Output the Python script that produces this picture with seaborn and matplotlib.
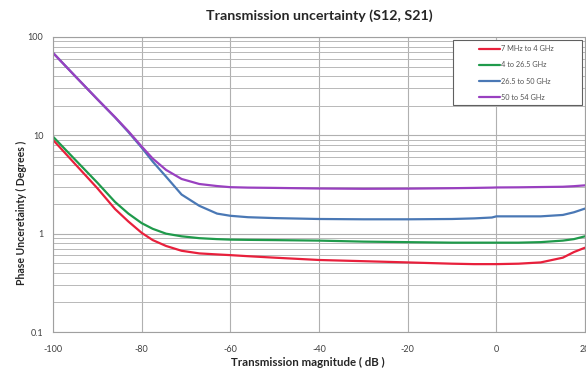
import matplotlib
matplotlib.use("Agg")
import matplotlib.pyplot as plt
import seaborn as sns
import pandas as pd
from matplotlib.ticker import FixedLocator, NullFormatter, LogLocator
from matplotlib.patches import Rectangle

x_db = [-100, -95, -90, -86, -83, -80, -77.5, -74.5, -71, -67, -63, -60, -56, -50,
        -40, -30, -20, -10, -5, -1, 0, 5, 10, 15, 17.5, 20]

red_vals = [9.0, 5.1, 2.9, 1.78, 1.33, 1.02, 0.86, 0.75, 0.67, 0.63, 0.615, 0.605, 0.59, 0.57,
            0.54, 0.525, 0.51, 0.495, 0.49, 0.49, 0.49, 0.495, 0.51, 0.57, 0.65, 0.72]
green_vals = [9.7, 5.65, 3.3, 2.1, 1.6, 1.28, 1.12, 1.0, 0.94, 0.9, 0.88, 0.87, 0.865, 0.86,
              0.85, 0.83, 0.82, 0.81, 0.81, 0.81, 0.81, 0.81, 0.82, 0.85, 0.88, 0.94]
blue_vals = [69, 40, 23.3, 15.2, 10.8, 7.5, 5.4, 3.8, 2.5, 1.92, 1.6, 1.52, 1.47, 1.44,
             1.41, 1.4, 1.4, 1.41, 1.43, 1.46, 1.5, 1.5, 1.5, 1.55, 1.65, 1.8]
purple_vals = [69, 40, 23.3, 15.3, 11.0, 7.7, 5.8, 4.45, 3.6, 3.2, 3.05, 2.97, 2.94, 2.92,
               2.88, 2.86, 2.87, 2.9, 2.92, 2.94, 2.95, 2.96, 2.98, 3.0, 3.04, 3.1]

series_names = ["7 MHz to 4 GHz", "4 to 26.5 GHz", "26.5 to 50 GHz", "50 to 54 GHz"]
series_vals = [red_vals, green_vals, blue_vals, purple_vals]
colors = ["#e8203c", "#1f9a4b", "#4a78b5", "#9940c0"]

x_ticks = [-100, -80, -60, -40, -20, 0, 20]
y_ticks = [0.1, 1, 10, 100]
y_tick_labels = ["0.1", "1", "10", "100"]

rows = []
for name, vals in zip(series_names, series_vals):
    for xv, yv in zip(x_db, vals):
        rows.append({"x": xv, "y": yv, "series": name})
df = pd.DataFrame(rows)

sns.set_style("white")
plt.rcParams["font.family"] = ["Lato", "DejaVu Sans"]

fig = plt.figure(figsize=(5.86, 3.75), dpi=100)
ax = fig.add_axes([53 / 586, 1 - 332 / 375, 532 / 586, 295 / 375])

sns.lineplot(data=df, x="x", y="y", hue="series", hue_order=series_names,
             palette=colors, linewidth=1.6, ax=ax, legend=True)

ax.set_yscale("log")
ax.set_ylim(0.1, 100)
ax.set_xlim(-100, 20)
ax.set_xticks(x_ticks)
ax.set_xticklabels([str(t) for t in x_ticks])
ax.yaxis.set_major_locator(FixedLocator(y_ticks))
ax.set_yticklabels(y_tick_labels)
ax.yaxis.set_minor_locator(LogLocator(base=10, subs=range(2, 10)))
ax.yaxis.set_minor_formatter(NullFormatter())

ax.grid(True, which="major", axis="both", color="#b0b0b0", linewidth=0.8)
ax.grid(True, which="minor", axis="y", color="#b8b8b8", linewidth=0.7)
ax.set_axisbelow(True)
for s in ax.spines.values():
    s.set_color("#a0a0a0")
    s.set_linewidth(0.8)
ax.tick_params(axis="both", which="both", length=0, labelsize=6.5, colors="#404040")
ax.tick_params(axis="x", pad=9)
ax.tick_params(axis="y", pad=7)

ax.set_title("Transmission uncertainty (S12, S21)", fontsize=10.3, fontweight="bold", pad=12)
ax.set_xlabel("Transmission magnitude ( dB )", fontsize=8.3, fontweight="bold")
ax.xaxis.set_label_coords(0.479, -0.085)
ax.set_ylabel("Phase Unceretainty ( Degrees )", fontsize=7.6, fontweight="bold")
ax.yaxis.set_label_coords(-0.049, 0.405)

# legend frame drawn as its own box, legend entries placed inside it
frame = Rectangle((0.752, 0.769), 0.242, 0.221, transform=ax.transAxes,
                  facecolor="white", edgecolor="#606060", linewidth=0.8, zorder=4)
ax.add_patch(frame)
handles, labels = ax.get_legend_handles_labels()
leg = ax.legend(handles, labels, loc="upper left", bbox_to_anchor=(0.8, 0.972), fontsize=5.3,
                frameon=False, handlelength=2.9, handletextpad=0.1, borderpad=0,
                labelspacing=1.25, borderaxespad=0)
leg.set_zorder(5)
for t in leg.get_texts():
    t.set_color("#555555")

fig.savefig("out.png", dpi=100)
